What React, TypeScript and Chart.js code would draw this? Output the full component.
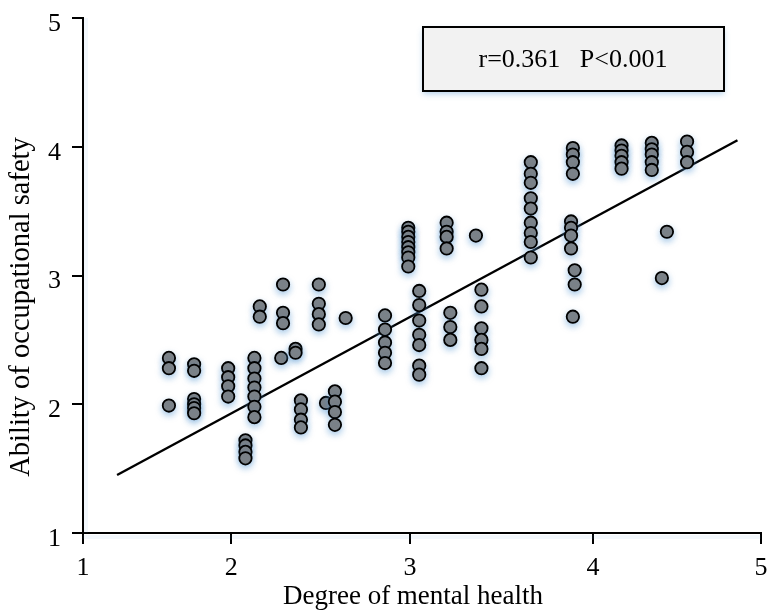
import React, { useEffect, useRef } from "react";
import { Chart, registerables, LinearScale } from "chart.js";

Chart.register(...registerables);

// ---------- data ----------
const xTickValues = [1, 2, 3, 4, 5];
const yTickValues = [1, 2, 3, 4, 5];

const mentalHealth = [
  1.58, 1.58, 1.58,
  1.75, 1.75, 1.75, 1.75, 1.75, 1.75,
  1.98, 1.98, 1.98, 1.98,
  2.08, 2.08, 2.08, 2.08,
  2.13, 2.13, 2.13, 2.13, 2.13, 2.13, 2.13,
  2.16, 2.16,
  2.29, 2.29, 2.29,
  2.28,
  2.36, 2.36,
  2.39, 2.39, 2.39, 2.39,
  2.49, 2.49, 2.49, 2.49,
  2.53,
  2.58, 2.58, 2.58, 2.58,
  2.64,
  2.86, 2.86, 2.86, 2.86, 2.86,
  2.99, 2.99, 2.99, 2.99, 2.99, 2.99, 2.99, 2.99,
  3.05, 3.05, 3.05, 3.05, 3.05, 3.05, 3.05,
  3.2, 3.2, 3.2, 3.2,
  3.22, 3.22, 3.22,
  3.36,
  3.39, 3.39, 3.39, 3.39, 3.39, 3.39,
  3.66, 3.66, 3.66, 3.66, 3.66, 3.66, 3.66, 3.66, 3.66,
  3.89, 3.89, 3.89, 3.89,
  3.88, 3.88, 3.88, 3.88,
  3.9, 3.9,
  3.89,
  4.17, 4.17, 4.17, 4.17, 4.17,
  4.35, 4.35, 4.35, 4.35, 4.35,
  4.44,
  4.41,
  4.56, 4.56, 4.56,
];

const occupationalSafety = [
  2.36, 2.28, 1.99,
  2.31, 2.26, 2.04, 2.0, 1.97, 1.93,
  2.28, 2.21, 2.14, 2.06,
  1.72, 1.68, 1.63, 1.58,
  2.36, 2.28, 2.2, 2.13, 2.06, 1.98, 1.9,
  2.76, 2.68,
  2.93, 2.71, 2.63,
  2.36,
  2.43, 2.4,
  2.03, 1.96, 1.88, 1.82,
  2.93, 2.78, 2.7, 2.62,
  2.01,
  2.1, 2.02, 1.94, 1.84,
  2.67,
  2.69, 2.58, 2.48, 2.4, 2.32,
  3.37, 3.34, 3.3, 3.26, 3.22, 3.18, 3.14, 3.07,
  2.88, 2.77, 2.65, 2.54, 2.46, 2.3, 2.23,
  3.41, 3.34, 3.3, 3.21,
  2.71, 2.6, 2.5,
  3.31,
  2.89, 2.76, 2.59, 2.5, 2.43, 2.28,
  3.88, 3.79, 3.72, 3.6, 3.52, 3.41, 3.33, 3.26, 3.14,
  3.99, 3.94, 3.88, 3.79,
  3.42, 3.37, 3.31, 3.21,
  3.04, 2.93,
  2.68,
  4.01, 3.97, 3.93, 3.88, 3.83,
  4.03, 3.98, 3.94, 3.88, 3.82,
  3.34,
  2.98,
  4.04, 3.96, 3.88,
];

const fitLineX = [1.23, 4.86];
const fitLineY = [1.45, 4.05];

const annotationText = "r=0.361   P<0.001";
const xTitle = "Degree of mental health";
const yTitle = "Ability of occupational safety";

// ---------- layout / style ----------
// The reference's x axis has unevenly spaced ticks; these are the fractions
// of the axis length at which each tick value sits.
const X_TICK_FRACTIONS = [0, 0.2185, 0.4824, 0.7522, 1];
const FONT = '"Liberation Serif", "Times New Roman", serif';
const TICK_SIZE = 26;

Chart.defaults.font.family = FONT;
Chart.defaults.font.size = TICK_SIZE;
Chart.defaults.color = "#000";

class PiecewiseLinearScale extends LinearScale {
  static id = "piecewiseLinear";

  valueToDecimal(v: number): number {
    const vals = xTickValues;
    const fr = X_TICK_FRACTIONS;
    if (v <= vals[0]) {
      return fr[0] + ((v - vals[0]) * (fr[1] - fr[0])) / (vals[1] - vals[0]);
    }
    for (let i = 0; i < vals.length - 1; i++) {
      if (v <= vals[i + 1]) {
        return fr[i] + ((v - vals[i]) * (fr[i + 1] - fr[i])) / (vals[i + 1] - vals[i]);
      }
    }
    const n = vals.length - 1;
    return fr[n] + ((v - vals[n]) * (fr[n] - fr[n - 1])) / (vals[n] - vals[n - 1]);
  }

  decimalToValue(d: number): number {
    const vals = xTickValues;
    const fr = X_TICK_FRACTIONS;
    for (let i = 0; i < fr.length - 1; i++) {
      if (d <= fr[i + 1] || i === fr.length - 2) {
        return vals[i] + ((d - fr[i]) * (vals[i + 1] - vals[i])) / (fr[i + 1] - fr[i]);
      }
    }
    return vals[vals.length - 1];
  }

  getPixelForValue(value: number): number {
    if (value === null || value === undefined || isNaN(value)) return NaN;
    return this.getPixelForDecimal(this.valueToDecimal(value));
  }

  getValueForPixel(pixel: number): number {
    return this.decimalToValue(this.getDecimalForPixel(pixel));
  }
}
Chart.register(PiecewiseLinearScale);

const SHADOW = "rgba(91,155,213,0.5)";

const pointShadowPlugin = {
  id: "pointShadow",
  beforeDatasetDraw(chart: any, args: any) {
    if (args.index === 0) {
      const ctx = chart.ctx;
      ctx.save();
      ctx.shadowColor = SHADOW;
      ctx.shadowBlur = 6;
      ctx.shadowOffsetX = 0;
      ctx.shadowOffsetY = 3;
    }
  },
  afterDatasetDraw(chart: any, args: any) {
    if (args.index === 0) chart.ctx.restore();
  },
};

const axisShadowPlugin = {
  id: "axisShadow",
  beforeDatasetsDraw(chart: any) {
    const { ctx, chartArea } = chart;
    ctx.save();
    ctx.strokeStyle = "rgba(91,155,213,0.08)";
    ctx.lineWidth = 4;
    ctx.beginPath();
    ctx.moveTo(chartArea.left, chartArea.bottom + 4);
    ctx.lineTo(chartArea.right, chartArea.bottom + 4);
    ctx.moveTo(chartArea.left + 3, chartArea.top);
    ctx.lineTo(chartArea.left + 3, chartArea.bottom);
    ctx.stroke();
    ctx.restore();
  },
};

const textPlugin = {
  id: "textDecor",
  afterDraw(chart: any) {
    const ctx = chart.ctx;
    ctx.save();
    // annotation box
    ctx.shadowColor = "rgba(91,155,213,0.45)";
    ctx.shadowBlur = 6;
    ctx.shadowOffsetY = 3;
    ctx.fillStyle = "#f2f2f2";
    ctx.fillRect(423, 27, 301, 64);
    ctx.shadowColor = "rgba(0,0,0,0)";
    ctx.lineWidth = 2;
    ctx.strokeStyle = "#000";
    ctx.strokeRect(423, 27, 301, 64);
    ctx.fillStyle = "#000";
    ctx.font = `26px ${FONT}`;
    ctx.textAlign = "center";
    ctx.textBaseline = "middle";
    ctx.fillText(annotationText, 573, 60);
    // axis titles
    ctx.font = `27px ${FONT}`;
    ctx.fillText(xTitle, 413, 597);
    ctx.font = `28.5px ${FONT}`;
    ctx.translate(22, 307);
    ctx.rotate(-Math.PI / 2);
    ctx.fillText(yTitle, 0, 0);
    ctx.restore();
  },
};

const zeroPadding = (scale: any) => {
  scale.paddingTop = 0;
  scale.paddingBottom = 0;
  scale.paddingLeft = 0;
  scale.paddingRight = 0;
};

export default function App() {
  const canvasRef = useRef<HTMLCanvasElement | null>(null);

  useEffect(() => {
    if (!canvasRef.current) return;
    const points = mentalHealth.map((x, i) => ({ x, y: occupationalSafety[i] }));
    const fit = fitLineX.map((x, i) => ({ x, y: fitLineY[i] }));

    const chart = new Chart(canvasRef.current, {
      type: "scatter",
      data: {
        datasets: [
          {
            type: "scatter",
            data: points,
            backgroundColor: "#7f7f7f",
            borderColor: "#000",
            borderWidth: 1.8,
            pointRadius: 6.2,
            order: 0,
          },
          {
            type: "line",
            data: fit,
            borderColor: "#000",
            borderWidth: 2.4,
            pointRadius: 0,
            fill: false,
            order: 1,
          } as any,
        ],
      },
      options: {
        responsive: false,
        animation: false,
        layout: { padding: { top: 18, right: 4, left: 0, bottom: 0 } },
        plugins: { legend: { display: false }, tooltip: { enabled: false } },
        scales: {
          x: {
            type: "piecewiseLinear" as any,
            min: xTickValues[0],
            max: xTickValues[xTickValues.length - 1],
            afterBuildTicks: (scale: any) => {
              scale.ticks = xTickValues.map((v) => ({ value: v }));
            },
            afterFit: (scale: any) => {
              scale.height = 77;
              zeroPadding(scale);
            },
            grid: {
              drawOnChartArea: false,
              drawTicks: true,
              tickLength: 11,
              color: "#000",
              lineWidth: 2,
            },
            border: { display: true, color: "#000", width: 2 },
            ticks: {
              color: "#000",
              padding: 9,
              font: { family: FONT, size: TICK_SIZE },
              maxRotation: 0,
            },
          },
          y: {
            type: "linear",
            min: yTickValues[0],
            max: yTickValues[yTickValues.length - 1],
            afterBuildTicks: (scale: any) => {
              scale.ticks = yTickValues.map((v) => ({ value: v }));
            },
            afterFit: (scale: any) => {
              scale.width = 83;
              zeroPadding(scale);
            },
            grid: {
              drawOnChartArea: false,
              drawTicks: true,
              tickLength: 11,
              color: "#000",
              lineWidth: 2,
            },
            border: { display: true, color: "#000", width: 2 },
            ticks: {
              color: "#000",
              padding: 11,
              labelOffset: 6,
              font: { family: FONT, size: TICK_SIZE },
            },
          },
        },
      },
      plugins: [pointShadowPlugin, axisShadowPlugin, textPlugin],
    });
    return () => chart.destroy();
  }, []);

  return (
    <div style={{ position: "fixed", left: 0, top: 0, width: 769, height: 610, background: "#fff" }}>
      <canvas ref={canvasRef} width={769} height={610} style={{ display: "block" }} />
    </div>
  );
}
